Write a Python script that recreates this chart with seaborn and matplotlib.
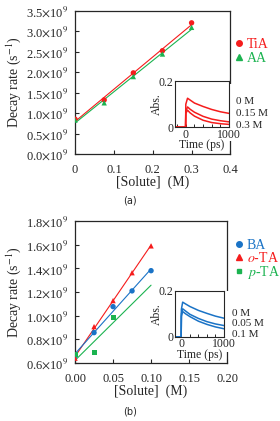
import numpy as np
import pandas as pd
import seaborn as sns
import matplotlib.pyplot as plt
from matplotlib.ticker import FuncFormatter, MultipleLocator
from matplotlib.lines import Line2D
from matplotlib.patches import Rectangle

sns.set_style("ticks")
plt.rcParams['font.family'] = ['Liberation Serif', 'DejaVu Serif']
plt.rcParams['mathtext.fontset'] = 'stix'
plt.rcParams['xtick.direction'] = 'in'
plt.rcParams['ytick.direction'] = 'in'

RED = '#f51c1c'
GREEN = '#1bb350'
BLUE = '#1a73c6'

# panel (a) data
conc_a = [0, 0.075, 0.15, 0.225, 0.3]
tia = [0.85e9, 1.32e9, 1.98e9, 2.52e9, 3.20e9]
aa = [0.83e9, 1.25e9, 1.89e9, 2.44e9, 3.09e9]

# panel (b) data
conc_b = [0, 0.025, 0.05, 0.075, 0.1]
ba = [0.66e9, 0.856e9, 1.076e9, 1.209e9, 1.38e9]
ota = [0.64e9, 0.907e9, 1.127e9, 1.363e9, 1.59e9]
conc_p = [0, 0.025, 0.05]
pta = [0.668e9, 0.687e9, 0.986e9]

# inset transients (a)
t_a = [-250, -5, 0, 40, 100, 200, 400, 600, 800, 1000]
abs_a0 = [0, 0, 0.10, 0.126, 0.118, 0.105, 0.090, 0.077, 0.067, 0.060]
abs_a15 = [0, 0, 0.07, 0.088, 0.078, 0.065, 0.047, 0.035, 0.028, 0.023]
abs_a30 = [0, 0, 0.06, 0.074, 0.062, 0.048, 0.030, 0.020, 0.015, 0.012]
labels_a = ['0 M', '0.15 M', '0.3 M']

# inset transients (b)
t_b = [-150, -5, 0, 30, 100, 200, 400, 600, 800, 1000]
abs_b0 = [0, 0, 0.12, 0.151, 0.143, 0.132, 0.115, 0.102, 0.090, 0.081]
abs_b05 = [0, 0, 0.10, 0.122, 0.112, 0.098, 0.080, 0.066, 0.056, 0.049]
abs_b10 = [0, 0, 0.09, 0.110, 0.100, 0.088, 0.068, 0.054, 0.043, 0.035]
labels_b = ['0 M', '0.05 M', '0.1 M']


def sci_fmt(v, pos):
    return r'%.1f$\times$10$^9$' % (v / 1e9)


def fit_line(ax, x, y, color, x_end):
    k, b = np.polyfit(x, y, 1)
    xs = np.array([0, x_end])
    df = pd.DataFrame({'x': xs, 'y': k * xs + b})
    sns.lineplot(data=df, x='x', y='y', ax=ax, color=color, lw=0.8)


def style_main(ax, xlim, ylim, xstep, ystep, xfmt):
    ax.set_xlim(*xlim)
    ax.set_ylim(*ylim)
    ax.xaxis.set_major_locator(MultipleLocator(xstep))
    ax.yaxis.set_major_locator(MultipleLocator(ystep))
    ax.yaxis.set_major_formatter(FuncFormatter(sci_fmt))
    ax.xaxis.set_major_formatter(FuncFormatter(lambda v, p: xfmt % v))
    ax.tick_params(labelsize=9, length=3, width=0.8)
    ax.tick_params(axis='x', pad=7)
    ax.tick_params(axis='y', pad=5)
    ax.set_xlabel('[Solute]  (M)', fontsize=10, labelpad=0)
    ax.set_ylabel('Decay rate (s$^{-1}$)', fontsize=10, labelpad=2)
    for s in ax.spines.values():
        s.set_linewidth(0.9)


def style_inset(ax, xlim):
    ax.set_zorder(3)
    ax.set_xlim(*xlim)
    ax.set_ylim(0, 0.2)
    ax.set_xticks([0, 1000])
    ax.xaxis.set_minor_locator(MultipleLocator(200))
    ax.set_yticks([0, 0.2])
    ax.yaxis.set_major_formatter(FuncFormatter(lambda v, p: '0' if v == 0 else '%.1f' % v))
    ax.tick_params(labelsize=8.5, length=2.5, width=0.7, pad=1)
    ax.tick_params(which='minor', axis='x', bottom=True, direction='in', length=2.5, width=0.7)
    ax.set_xlabel('Time (ps)', fontsize=8.5, labelpad=-1)
    ax.set_ylabel('Abs.', fontsize=8.5, labelpad=-3)
    for s in ax.spines.values():
        s.set_linewidth(0.8)


fig = plt.figure(figsize=(2.8, 4.21), dpi=100)

# ---------- panel (a)
ax1 = fig.add_axes([0.268, 0.634, 0.555, 0.341])
fit_line(ax1, conc_a, tia, RED, 0.3)
fit_line(ax1, conc_a, aa, GREEN, 0.3)
sns.scatterplot(x=conc_a, y=tia, ax=ax1, color=RED, marker='o', s=15, edgecolor='none', zorder=3)
sns.scatterplot(x=conc_a, y=aa, ax=ax1, color=GREEN, marker='^', s=15, edgecolor='none', zorder=3)
style_main(ax1, (0, 0.4), (0, 3.5e9), 0.1, 0.5e9, '%g')

h = [Line2D([], [], ls='none', marker='o', color=RED, ms=4),
     Line2D([], [], ls='none', marker='^', color=GREEN, ms=4)]
leg = ax1.legend(h, ['TiA', 'AA'], loc='upper left', bbox_to_anchor=(0.84, 0.91),
                 bbox_transform=fig.transFigure, frameon=False, fontsize=10,
                 handlelength=0.5, handletextpad=0.35, labelspacing=0.05, borderpad=0,
                 borderaxespad=0)
for t, c in zip(leg.get_texts(), [RED, GREEN]):
    t.set_color(c)

# white block behind the inset labels hides part of the right spine
fig.patches.append(Rectangle((0.815, 0.665), 0.02, 0.135, transform=fig.transFigure,
                             facecolor='white', edgecolor='none', zorder=2))

in1 = fig.add_axes([0.625, 0.698, 0.193, 0.109])
for y in [abs_a0, abs_a15, abs_a30]:
    sns.lineplot(x=t_a, y=y, ax=in1, color=RED, lw=1.1)
style_inset(in1, (-250, 1000))
for lab, yy in zip(labels_a, [0.55, 0.29, 0.04]):
    in1.text(1.12, yy, lab, transform=in1.transAxes, fontsize=8, va='center', ha='left')

fig.text(0.465, 0.523, '(a)', family='DejaVu Sans', fontsize=7, ha='center', va='center')

# ---------- panel (b)
ax2 = fig.add_axes([0.268, 0.138, 0.543, 0.337])
fit_line(ax2, conc_b, ota, RED, 0.1)
fit_line(ax2, conc_b, ba, BLUE, 0.1)
fit_line(ax2, conc_p, pta, GREEN, 0.1)
sns.scatterplot(x=conc_b, y=ba, ax=ax2, color=BLUE, marker='o', s=15, edgecolor='none', zorder=3)
sns.scatterplot(x=conc_b, y=ota, ax=ax2, color=RED, marker='^', s=15, edgecolor='none', zorder=3)
sns.scatterplot(x=conc_p, y=pta, ax=ax2, color=GREEN, marker='s', s=13, edgecolor='none', zorder=3)
style_main(ax2, (0, 0.2), (0.6e9, 1.8e9), 0.05, 0.2e9, '%.2f')

h = [Line2D([], [], ls='none', marker='o', color=BLUE, ms=4),
     Line2D([], [], ls='none', marker='^', color=RED, ms=4),
     Line2D([], [], ls='none', marker='s', color=GREEN, ms=3.5)]
leg = ax2.legend(h, ['BA', '$o$-TA', '$p$-TA'], loc='upper left', bbox_to_anchor=(0.84, 0.433),
                 bbox_transform=fig.transFigure, frameon=False, fontsize=10,
                 handlelength=0.5, handletextpad=0.35, labelspacing=-0.05, borderpad=0,
                 borderaxespad=0)
for t, c in zip(leg.get_texts(), [BLUE, RED, GREEN]):
    t.set_color(c)

fig.patches.append(Rectangle((0.80, 0.163), 0.02, 0.145, transform=fig.transFigure,
                             facecolor='white', edgecolor='none', zorder=2))

in2 = fig.add_axes([0.625, 0.2, 0.175, 0.109])
for y in [abs_b0, abs_b05, abs_b10]:
    sns.lineplot(x=t_b, y=y, ax=in2, color=BLUE, lw=1.1)
style_inset(in2, (-150, 1000))
for lab, yy in zip(labels_b, [0.51, 0.28, 0.05]):
    in2.text(1.16, yy, lab, transform=in2.transAxes, fontsize=8, va='center', ha='left')

fig.text(0.465, 0.0214, '(b)', family='DejaVu Sans', fontsize=7, ha='center', va='center')

fig.savefig('out.png', dpi=100)
